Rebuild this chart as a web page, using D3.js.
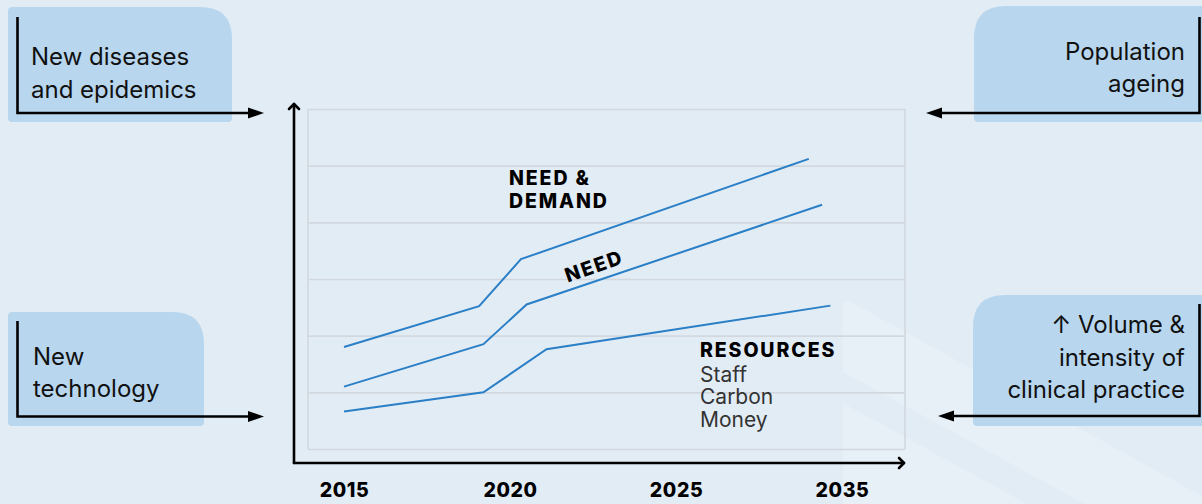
<!DOCTYPE html>
<html>
<head>
<meta charset="utf-8">
<script src="https://cdn.jsdelivr.net/npm/d3@7"></script>
<style>
  html, body { margin: 0; padding: 0; background: #e2ecf5; }
  svg { display: block; }
  text { font-family: Inter, Lato, sans-serif; }
</style>
</head>
<body>
<svg id="chart" width="1202" height="504"></svg>
<script>
// ---- data ----------------------------------------------------------------
const yearTicks = [2015, 2020, 2025, 2035];
const gridLevels = [0, 1, 2, 3, 4, 5, 6];

const needDemandYears  = [2015, 2019.07, 2020.33, 2033.0];
const needDemandValues = [1.80, 2.52, 3.35, 5.12];

const needYears  = [2015, 2019.2, 2020.5, 2033.8];
const needValues = [1.10, 1.85, 2.55, 4.31];

const resourceYears  = [2015, 2019.2, 2021.1, 2034.3];
const resourceValues = [0.66, 1.00, 1.76, 2.53];

const resourceItems = ["Staff", "Carbon", "Money"];

const driverTexts = {
  topLeft: ["New diseases", "and epidemics"],
  bottomLeft: ["New", "technology"],
  topRight: ["Population", "ageing"],
  bottomRight: ["\u2191 Volume &", "intensity of", "clinical practice"]
};

// ---- layout --------------------------------------------------------------
const svg = d3.select("#chart");
const W = 1202, H = 504;
const plot = { left: 308, right: 905, top: 109, bottom: 449 };
const axisX = 294, axisY = 463;
const BLUE = "#2a7fc6";
const BOX = "#b8d7ef";

svg.append("rect").attr("width", W).attr("height", H).attr("fill", "#e2ecf5");

// faint diagonal watermark bands
const wm = svg.append("g").attr("fill", "#ffffff").attr("fill-opacity", 0.2);
wm.append("path").attr("d", "M843,306 Q843,298 851,302 L1202,496 L1202,568 L843,372 Z");
wm.append("path").attr("d", "M843,403 L1202,600 L1202,504 L843,504 Z");

// scales: tick years sit at equal steps
const step = 166;
const x = d3.scaleLinear()
  .domain(yearTicks)
  .range(yearTicks.map((d, i) => 344 + i * step));
const y = d3.scaleLinear().domain([0, 6]).range([plot.bottom, plot.top]);

// gridlines
const grid = svg.append("g")
  .attr("transform", `translate(${plot.left},0)`)
  .call(d3.axisLeft(y).tickValues(gridLevels).tickSize(-(plot.right - plot.left)).tickFormat(""));
grid.select(".domain").remove();
grid.selectAll(".tick line").attr("stroke", "#d2d8de").attr("stroke-width", 1.6);
[plot.left, plot.right].forEach(px => {
  svg.append("line").attr("x1", px).attr("x2", px)
    .attr("y1", plot.top).attr("y2", plot.bottom)
    .attr("stroke", "#d2d8de").attr("stroke-width", 1.6);
});

// axes with open arrowheads
const axes = svg.append("g").attr("stroke", "#000").attr("stroke-width", 2.6)
  .attr("fill", "none").attr("stroke-linecap", "round").attr("stroke-linejoin", "round");
axes.append("path").attr("d", `M${axisX},${axisY} V${104}`);
axes.append("path").attr("d", `M${axisX - 5},${109} L${axisX},${104} L${axisX + 5},${109}`);
axes.append("path").attr("d", `M${axisX},${axisY} H${904}`);
axes.append("path").attr("d", `M${899},${axisY - 5} L${904},${axisY} L${899},${axisY + 5}`);

// year labels
const xAxis = svg.append("g")
  .attr("transform", `translate(0,${axisY})`)
  .call(d3.axisBottom(x).tickValues(yearTicks).tickSize(0).tickPadding(20).tickFormat(d3.format("d")));
xAxis.select(".domain").remove();
xAxis.selectAll("text")
  .attr("font-family", "Inter, sans-serif")
  .attr("font-size", 19.5).attr("font-weight", 800).attr("letter-spacing", 0.6).attr("fill", "#000");

// series lines
const line = d3.line().x(d => x(d[0])).y(d => y(d[1]));
const series = [
  d3.zip(needDemandYears, needDemandValues),
  d3.zip(needYears, needValues),
  d3.zip(resourceYears, resourceValues)
];
svg.append("g").selectAll("path").data(series).join("path")
  .attr("d", line).attr("fill", "none")
  .attr("stroke", BLUE).attr("stroke-width", 2);

// series labels
const lab = svg.append("g").attr("font-weight", 800).attr("fill", "#000")
  .attr("font-size", 19.5).attr("letter-spacing", 1.9);
lab.append("text").attr("x", 509).attr("y", 185).text("NEED &");
lab.append("text").attr("x", 509).attr("y", 207.5).text("DEMAND");
lab.append("text").attr("transform", "translate(594,266) rotate(-19)")
  .attr("text-anchor", "middle").attr("dy", 7).text("NEED");
lab.append("text").attr("x", 700).attr("y", 356.5).text("RESOURCES");
svg.append("g").selectAll("text").data(resourceItems).join("text")
  .attr("x", 700).attr("y", (d, i) => 381.5 + i * 22.8)
  .attr("font-size", 21).attr("fill", "#333").text(d => d);

// driver boxes
function box(x0, y0, w, h, rtl, rtr, rbr, rbl) {
  return `M${x0 + rtl},${y0} H${x0 + w - rtr} Q${x0 + w},${y0} ${x0 + w},${y0 + rtr}` +
    ` V${y0 + h - rbr} Q${x0 + w},${y0 + h} ${x0 + w - rbr},${y0 + h}` +
    ` H${x0 + rbl} Q${x0},${y0 + h} ${x0},${y0 + h - rbl}` +
    ` V${y0 + rtl} Q${x0},${y0} ${x0 + rtl},${y0} Z`;
}
const boxes = svg.append("g").attr("fill", BOX);
boxes.append("path").attr("d", box(8, 7, 224, 115, 4, 32, 4, 4));
boxes.append("path").attr("d", box(8, 312, 196, 114, 4, 32, 4, 4));
boxes.append("path").attr("d", box(974, 6, 260, 116, 32, 0, 0, 4));
boxes.append("path").attr("d", box(973, 295, 260, 131, 32, 0, 0, 4));

// connectors with filled arrowheads
const con = svg.append("g");
function connector(vx, vy0, vy1, tipX) {
  const dir = tipX > vx ? 1 : -1;
  con.append("path")
    .attr("d", `M${vx},${vy0} V${vy1} H${tipX - dir * 12}`)
    .attr("fill", "none").attr("stroke", "#000").attr("stroke-width", 2.6);
  con.append("path")
    .attr("d", `M${tipX},${vy1} L${tipX - dir * 16},${vy1 - 5.5} L${tipX - dir * 16},${vy1 + 5.5} Z`)
    .attr("fill", "#000");
}
connector(17.5, 17, 113, 264);
connector(17.5, 321, 416.5, 264);
connector(1199.5, 17, 113, 926);
connector(1199.5, 304, 416, 938);

// driver texts
const dt = svg.append("g").attr("font-size", 24).attr("fill", "#111");
function lines(arr, px, py, lh, anchor) {
  arr.forEach((t, i) => dt.append("text").attr("x", px).attr("y", py + i * lh)
    .attr("text-anchor", anchor).text(t));
}
lines(driverTexts.topLeft, 31, 65, 33, "start");
lines(driverTexts.bottomLeft, 33, 365, 32, "start");
lines(driverTexts.topRight, 1185, 60, 32, "end");
lines(driverTexts.bottomRight, 1185, 333, 32.5, "end");
</script>
</body>
</html>
